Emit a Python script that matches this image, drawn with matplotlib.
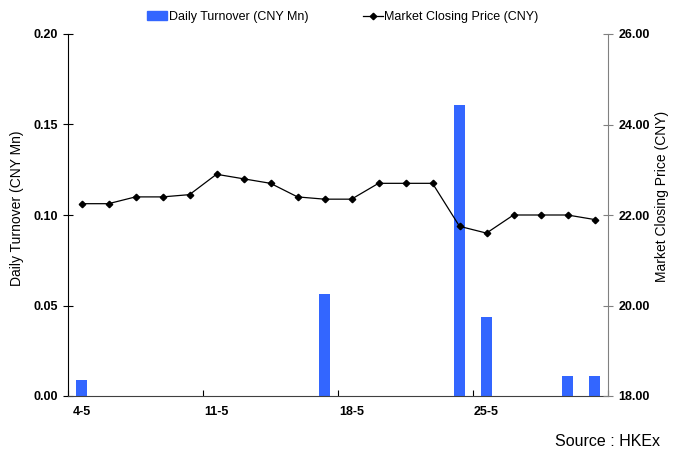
#!/usr/bin/env python3

import numpy as np
import matplotlib
matplotlib.use('Agg')
import matplotlib.pyplot as plt
from matplotlib.lines import Line2D
from matplotlib.patches import Patch

# trading days in May
days = ['4-5', '5-5', '6-5', '7-5', '8-5',
        '11-5', '12-5', '13-5', '14-5', '15-5',
        '18-5', '19-5', '20-5', '21-5', '22-5',
        '25-5', '26-5', '27-5', '28-5', '29-5']
turnover = [0.0088, 0, 0, 0, 0,
            0, 0, 0, 0, 0.0563,
            0, 0, 0, 0, 0.1606,
            0.0436, 0, 0, 0.0113, 0.0113]
price = [22.25, 22.25, 22.40, 22.40, 22.45,
         22.90, 22.80, 22.70, 22.40, 22.35,
         22.35, 22.70, 22.70, 22.70, 21.75,
         21.60, 22.00, 22.00, 22.00, 21.90]
label_days = ['4-5', '11-5', '18-5', '25-5']

plt.rcParams['font.family'] = ['Liberation Sans', 'DejaVu Sans']

fig = plt.figure(figsize=(6.78, 4.5), dpi=100)
ax1 = fig.add_axes([68 / 678, 1 - 396 / 450, 540 / 678, 362 / 450])
ax2 = ax1.twinx()

x = np.arange(len(days))
ax1.bar(x, turnover, width=0.42, color='#3366ff', zorder=2)
ax2.plot(x, price, color='black', linewidth=0.9, marker='D', markersize=3.3,
         zorder=3)

ax1.set_xlim(-0.5, len(days) - 0.5)
ax1.set_ylim(0, 0.20)
ax1.set_yticks(np.arange(0, 0.201, 0.05))
ax1.set_yticklabels(['%.2f' % v for v in np.arange(0, 0.201, 0.05)],
                    fontweight='bold', fontsize=9)
ax2.set_ylim(18, 26)
ax2.set_yticks(np.arange(18, 26.1, 2))
ax2.set_yticklabels(['%.2f' % v for v in np.arange(18, 26.1, 2)],
                    fontweight='bold', fontsize=9)

# labels on the category, tick marks between categories
ax1.set_xticks([days.index(d) for d in label_days])
ax1.set_xticklabels(label_days, fontweight='bold', fontsize=9)
ax1.set_xticks(np.arange(-0.5, len(days), 5), minor=True)
ax1.tick_params(axis='x', which='major', length=0, pad=7)
ax1.tick_params(axis='x', which='minor', direction='in', length=4, width=0.8)
ax1.tick_params(axis='y', direction='inout', length=7, width=0.8, pad=4)
ax2.tick_params(axis='y', direction='inout', length=7, width=0.8, pad=4,
                color='#808080')

for ax in (ax1, ax2):
    ax.spines['top'].set_visible(False)
ax1.spines['right'].set_visible(False)
ax2.spines['left'].set_visible(False)
ax2.spines['bottom'].set_visible(False)
ax2.spines['right'].set_color('#808080')
ax1.spines['bottom'].set_color('#404040')

ax1.set_ylabel('Daily Turnover (CNY Mn)', fontsize=10)
ax1.yaxis.set_label_coords((24 - 68) / 540, (396 - 208) / 362)
ax2.set_ylabel('Market Closing Price (CNY)', fontsize=10)
ax2.yaxis.set_label_coords((655 - 68) / 540, (396 - 196) / 362)

handles = [Patch(color='#3366ff'),
           Line2D([], [], color='black', linewidth=0.9, marker='D', markersize=3.3)]
fig.legend(handles, ['Daily Turnover (CNY Mn)', 'Market Closing Price (CNY)'],
           loc='center', bbox_to_anchor=(343 / 678, 1 - 17 / 450), ncol=2,
           frameon=False, fontsize=9, handlelength=1.6, handletextpad=0.1,
           columnspacing=4.4)

fig.text(660 / 678, 1 - 441 / 450, 'Source : HKEx', ha='right', va='center',
         fontsize=11.5)

fig.savefig('out.png', dpi=100)
